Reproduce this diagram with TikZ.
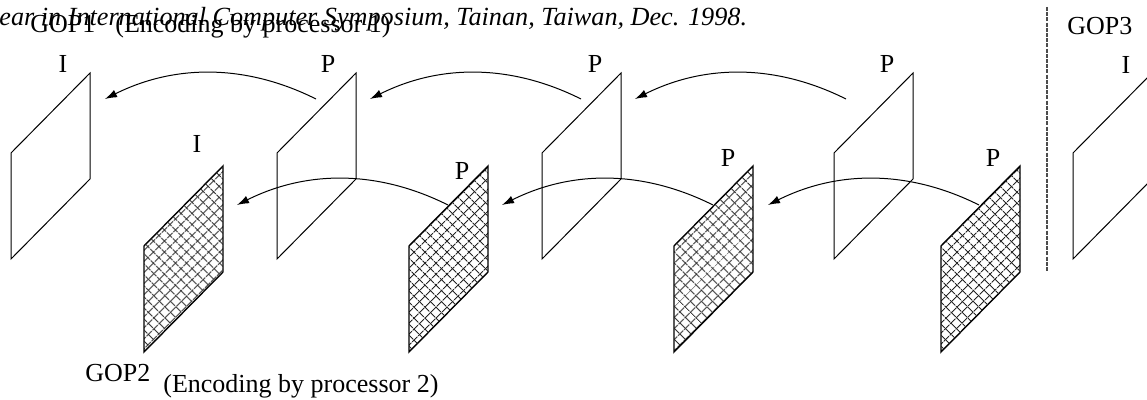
\documentclass[tikz,border=0pt]{standalone}
\usepackage{fontspec}
\setmainfont{Liberation Serif}
\usetikzlibrary{arrows.meta,patterns.meta}

\begin{document}
\begin{tikzpicture}[x=0.5pt,y=-0.5pt,
  frame/.style={draw,line width=0.5pt},
  hatchframe/.style={draw,line width=0.7pt,
    pattern={Lines[angle=45,distance=4pt,line width=0.5pt]},pattern color=black!85,
    postaction={pattern={Lines[angle=-45,distance=4pt,line width=0.5pt]},pattern color=black!85}},
  flow/.style={-{Latex[length=6pt,width=4pt]},line width=0.5pt},
  sep/.style={dash pattern=on 2pt off 0.6pt,line width=0.6pt,black!70},
  lbl/.style={anchor=base,inner sep=0pt,font=\fontsize{13}{15}\selectfont}]
\useasboundingbox (0,0) rectangle (1147,400);
\clip (0,0) rectangle (1147,400);

% Header and group titles
\node[anchor=base west,inner sep=0pt,font=\fontsize{13.1}{16}\selectfont\itshape] (hdr) at (-1,26)
  {ear in International Computer Symposium, Tainan, Taiwan, Dec. 1998.};
\node[lbl,anchor=base west] (gop1) at (30,33) {GOP1};
\node[lbl,anchor=base west] (enc1) at (115,33) {(Encoding by processor 1)};
\node[lbl,anchor=base west] (gop2) at (85,382) {GOP2};
\node[lbl,anchor=base west] (enc2) at (163,393) {(Encoding by processor 2)};
\node[lbl,anchor=base west] (gop3) at (1067,35) {GOP3};

% Processor 1 frames
\foreach \n/\x in {1/11,2/277,3/542,4/834,5/1073}
  \draw[frame] (\x,153) coordinate (f\n) -- ++(79,-80) -- ++(0,106) -- ++(-79,80) -- cycle;
\node[lbl] (lf1) at (63,73) {I};
\node[lbl] (lf2) at (328,73) {P};
\node[lbl] (lf3) at (595,73) {P};
\node[lbl] (lf4) at (887,73) {P};
\node[lbl] (lf5) at (1126,74) {I};

% Processor 2 frames
\foreach \n/\x in {1/144,2/409,3/674,4/941}
  \draw[hatchframe] (\x,246) coordinate (h\n) -- ++(79,-80) -- ++(0,106) -- ++(-79,80) -- cycle;
\node[lbl] (lh1) at (197,153) {I};
\node[lbl] (lh2) at (462,180) {P};
\node[lbl] (lh3) at (728,167) {P};
\node[lbl] (lh4) at (993,167) {P};

% Prediction arcs
\foreach \n/\e in {1/105,2/370,3/635} {
  \coordinate (ta\n) at (\e+211,99);
  \coordinate (tb\n) at (\e,99);
  \draw[flow] (ta\n) .. controls +(-70,-35) and +(70,-35) .. (tb\n);
}
\foreach \n/\e in {1/237,2/502,3/768} {
  \coordinate (ba\n) at (\e+211,205);
  \coordinate (bb\n) at (\e,205);
  \draw[flow] (ba\n) .. controls +(-70,-35) and +(70,-35) .. (bb\n);
}

% GOP boundary
\coordinate (s1) at (1047,7);
\coordinate (s2) at (1047,272);
\draw[sep] (s1) -- (s2);
\end{tikzpicture}
\end{document}
